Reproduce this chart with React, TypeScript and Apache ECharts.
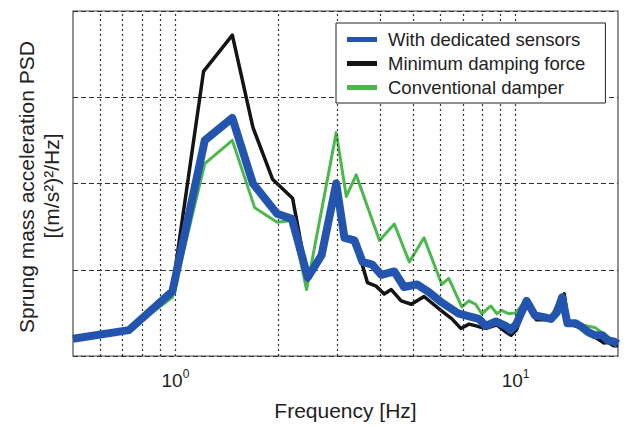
import React, { useEffect, useRef } from "react";
import * as echarts from "echarts";

const FONT = "Liberation Sans, Arial, Helvetica, sans-serif";

const seriesNames = ["With dedicated sensors", "Minimum damping force", "Conventional damper"];

const blueFreq = [0.5, 0.73, 0.98, 1.22, 1.47, 1.69, 1.99, 2.2, 2.45, 2.69, 2.97, 3.14, 3.36, 3.55, 3.79, 4.03, 4.4, 4.7, 5.13, 5.56, 6.07, 6.81, 7.8, 8.17, 8.75, 9.35, 9.67, 10.05, 10.77, 11.4, 12.1, 12.7, 13.2, 13.7, 14.2, 15.0, 15.6, 16.3, 17.1, 18.0, 18.7, 19.4, 20];
const blueVals = [0.2, 0.3, 0.75, 2.5, 2.76, 2.0, 1.65, 1.59, 0.91, 1.17, 2.0, 1.37, 1.34, 1.09, 1.06, 0.94, 0.98, 0.8, 0.83, 0.74, 0.62, 0.49, 0.43, 0.35, 0.4, 0.35, 0.3, 0.37, 0.64, 0.47, 0.45, 0.43, 0.5, 0.68, 0.38, 0.38, 0.34, 0.28, 0.24, 0.24, 0.18, 0.17, 0.14];

const blackFreq = [0.5, 0.73, 0.98, 1.21, 1.47, 1.69, 1.93, 2.21, 2.45, 2.7, 2.97, 3.14, 3.4, 3.67, 3.89, 4.11, 4.31, 4.61, 4.94, 5.38, 6.07, 6.5, 6.9, 7.3, 7.8, 8.2, 8.8, 9.35, 9.7, 10.05, 10.8, 11.5, 12.7, 13.2, 13.9, 14.3, 15.6, 17.1, 18.2, 18.7, 19.4, 20];
const blackVals = [0.2, 0.3, 0.78, 3.3, 3.72, 2.65, 2.05, 1.83, 0.88, 1.17, 2.0, 1.36, 1.3, 0.85, 0.81, 0.72, 0.77, 0.64, 0.6, 0.69, 0.52, 0.43, 0.32, 0.37, 0.34, 0.32, 0.36, 0.28, 0.24, 0.3, 0.62, 0.42, 0.42, 0.5, 0.72, 0.37, 0.33, 0.22, 0.15, 0.16, 0.12, 0.12];

const greenFreq = [0.5, 0.73, 0.98, 1.22, 1.47, 1.71, 1.99, 2.2, 2.43, 2.97, 3.18, 3.4, 3.98, 4.4, 4.87, 5.38, 6.07, 6.36, 6.95, 7.29, 7.63, 7.95, 8.46, 8.81, 9.1, 9.53, 10.0, 10.8, 11.5, 12.7, 13.6, 14.2, 15.6, 17.1, 18.7, 20];
const greenVals = [0.2, 0.3, 0.68, 2.23, 2.5, 1.72, 1.55, 1.57, 0.77, 2.59, 1.85, 2.1, 1.34, 1.53, 1.09, 1.37, 0.83, 0.9, 0.57, 0.64, 0.6, 0.49, 0.58, 0.49, 0.53, 0.49, 0.5, 0.66, 0.45, 0.45, 0.68, 0.4, 0.36, 0.33, 0.22, 0.15];

const gridFreqs = [0.6, 0.7, 0.8, 0.9, 1, 2, 3, 4, 5, 6, 7, 8, 9, 10];

const xMin = 0.5;
const xMax = 20;
const yMin = 0;
const yMax = 4;
const yStep = 1;

const zip = (f: number[], v: number[]) => f.map((x, i) => [x, v[i]]);

export default function App() {
  const ref = useRef<HTMLDivElement>(null);
  useEffect(() => {
    if (!ref.current) return;
    const chart = echarts.init(ref.current, null, { renderer: "svg" });
    const option: any = {
      animation: false,
      backgroundColor: "#ffffff",
      textStyle: { fontFamily: FONT },
      grid: {
        left: 73,
        right: 7,
        top: 11,
        bottom: 63,
        show: true,
        borderColor: "#4a4a4a",
        borderWidth: 1.2,
        backgroundColor: "transparent",
      },
      legend: {
        orient: "vertical",
        left: 336,
        top: 23,
        padding: [7, 20, 6, 11],
        itemGap: 5,
        itemWidth: 30,
        itemHeight: 5,
        icon: "rect",
        backgroundColor: "#ffffff",
        borderColor: "#222222",
        borderWidth: 1,
        data: seriesNames,
        textStyle: { fontFamily: FONT, fontSize: 18.5, color: "#222", padding: [0, 0, 0, 6] },
        z: 10,
      },
      xAxis: {
        type: "log",
        logBase: 10,
        min: xMin,
        max: xMax,
        name: "Frequency [Hz]",
        nameLocation: "middle",
        nameGap: 44,
        nameTextStyle: { fontFamily: FONT, fontSize: 21, color: "#222" },
        axisLine: { show: false },
        axisTick: { show: false },
        splitLine: { show: false },
        axisLabel: {
          margin: 12,
          showMinLabel: false,
          showMaxLabel: false,
          formatter: (v: number) => {
            const e = Math.log10(v);
            if (Math.abs(e - Math.round(e)) < 1e-6) return `{b|10}{s|${Math.round(e)}}`;
            return "";
          },
          rich: {
            b: { fontFamily: FONT, fontSize: 19, color: "#222", lineHeight: 22, verticalAlign: "bottom" },
            s: { fontFamily: FONT, fontSize: 12, color: "#222", lineHeight: 12, verticalAlign: "top" },
          },
        },
      },
      yAxis: {
        type: "value",
        min: yMin,
        max: yMax,
        interval: yStep,
        axisLine: { show: false },
        axisTick: { show: false },
        axisLabel: { show: false },
        splitLine: { show: true, lineStyle: { color: "#333", width: 1, type: [5, 3] } },
      },
      graphic: [
        {
          type: "text",
          x: 26,
          y: 187,
          rotation: Math.PI / 2,
          style: {
            text: "Sprung mass acceleration PSD",
            fontFamily: FONT,
            fontSize: 21,
            fill: "#222",
            align: "center",
            verticalAlign: "middle",
          },
        },
        {
          type: "text",
          x: 51,
          y: 186,
          rotation: Math.PI / 2,
          style: {
            text: "[(m/s²)²/Hz]",
            fontFamily: FONT,
            fontSize: 21,
            fill: "#222",
            align: "center",
            verticalAlign: "middle",
          },
        },
      ],
      series: [
        {
          name: "grid",
          type: "line",
          data: [],
          z: 1,
          silent: true,
          markLine: {
            silent: true,
            symbol: ["none", "none"],
            label: { show: false },
            lineStyle: { color: "#333", width: 1.2, type: [2, 3] },
            data: gridFreqs.map((f) => ({ xAxis: f })),
          },
        },
        {
          name: seriesNames[2],
          type: "line",
          data: zip(greenFreq, greenVals),
          showSymbol: false,
          symbol: "none",
          z: 3,
          color: "#4cb84c",
          lineStyle: { width: 3, color: "#4cb84c", join: "round" },
        },
        {
          name: seriesNames[1],
          type: "line",
          data: zip(blackFreq, blackVals),
          showSymbol: false,
          symbol: "none",
          z: 4,
          color: "#141414",
          lineStyle: { width: 3.5, color: "#141414", join: "round" },
        },
        {
          name: seriesNames[0],
          type: "line",
          data: zip(blueFreq, blueVals),
          showSymbol: false,
          symbol: "none",
          z: 5,
          color: "#2455ae",
          lineStyle: { width: 8, color: "#2455ae", join: "round" },
        },
      ],
    };
    chart.setOption(option);
    return () => chart.dispose();
  }, []);
  return <div ref={ref} style={{ width: 625, height: 426, position: "absolute", left: 0, top: 0 }} />;
}
